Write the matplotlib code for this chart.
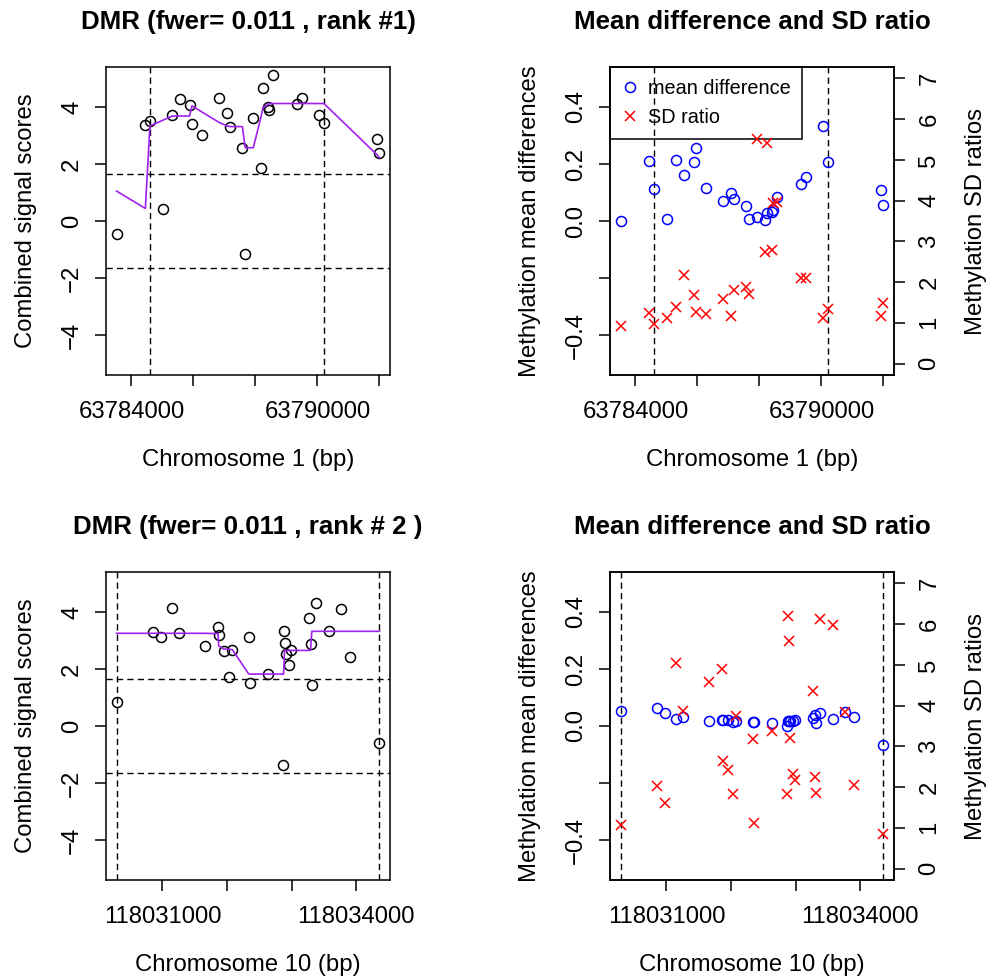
import matplotlib
matplotlib.use("Agg")
import matplotlib.pyplot as plt
from matplotlib.lines import Line2D

plt.rcParams['font.family'] = ['Liberation Sans', 'DejaVu Sans']

# ---------------- data: region 1 (chromosome 1) ----------------
pos1 = [63783520, 63784451, 63784596, 63785004, 63785321, 63785552, 63785874,
        63785954, 63786277, 63786840, 63787093, 63787179, 63787581, 63787668,
        63787931, 63788184, 63788243, 63788414, 63788441, 63788559, 63789333,
        63789505, 63790047, 63790208, 63791915, 63792001]
score1 = [-0.44, 3.36, 3.52, 0.42, 3.70, 4.27, 4.07, 3.40, 3.01, 4.32, 3.78,
          3.31, 2.57, -1.17, 3.60, 1.87, 4.65, 4.00, 3.89, 5.11, 4.12, 4.30,
          3.70, 3.42, 2.88, 2.37]
smooth1 = [1.05, 0.44, 3.33, 3.53, 3.68, 3.68, 3.68, 4.04, 3.82, 3.45, 3.33,
           3.31, 3.31, 2.57, 2.57, 3.67, 3.98, 4.09, 4.12, 4.12, 4.12, 4.12,
           4.12, 4.12, 2.33, 2.22]
meandiff1 = [0.000, 0.210, 0.113, 0.006, 0.214, 0.163, 0.208, 0.255, 0.117,
             0.069, 0.099, 0.076, 0.053, 0.006, 0.015, 0.005, 0.027, 0.033,
             0.039, 0.084, 0.130, 0.156, 0.333, 0.207, 0.109, 0.057]
sdratio1 = [0.92, 1.23, 0.98, 1.11, 1.39, 2.17, 1.68, 1.27, 1.21, 1.59, 1.17,
            1.80, 1.88, 1.70, 5.51, 2.74, 5.41, 2.78, 3.95, 3.97, 2.09, 2.09,
            1.13, 1.33, 1.17, 1.49]
dmr1 = [63784590, 63790210]
xticks1 = [63784000, 63786000, 63788000, 63790000, 63792000]
xticklabels1 = ['63784000', '', '', '63790000', '']

# ---------------- data: region 2 (chromosome 10) ----------------
pos2 = [118030289, 118030850, 118030974, 118031155, 118031258, 118031655,
        118031861, 118031871, 118031949, 118032036, 118032083, 118032335,
        118032356, 118032629, 118032871, 118032876, 118032892, 118032913,
        118032954, 118032990, 118033273, 118033294, 118033314, 118033376,
        118033583, 118033768, 118033907, 118034362]
score2 = [0.83, 3.30, 3.12, 4.14, 3.25, 2.81, 3.46, 3.19, 2.62, 1.71, 2.68,
          3.11, 1.51, 1.82, -1.38, 3.32, 2.91, 2.53, 2.15, 2.67, 3.80, 2.88,
          1.44, 4.33, 3.32, 4.12, 2.41, -0.60]
smooth2 = [3.25, 3.25, 3.25, 3.25, 3.25, 3.25, 3.24, 2.81, 2.70, 2.69, 2.68,
           1.83, 1.82, 1.82, 1.82, 1.82, 2.65, 2.65, 2.65, 2.65, 2.65, 2.66,
           3.32, 3.32, 3.32, 3.32, 3.32, 3.32]
meandiff2 = [0.053, 0.062, 0.044, 0.026, 0.030, 0.018, 0.021, 0.022, 0.020,
             0.013, 0.019, 0.015, 0.013, 0.012, 0.000, 0.016, 0.019, 0.016,
             0.018, 0.020, 0.027, 0.040, 0.012, 0.046, 0.025, 0.050, 0.033,
             -0.067]
sdratio2 = [1.06, 2.02, 1.61, 5.05, 3.87, 4.57, 4.89, 2.65, 2.43, 1.84, 3.74,
            3.18, 1.12, 3.38, 1.82, 6.21, 5.59, 3.20, 2.33, 2.18, 4.35, 2.25,
            1.86, 6.12, 5.97, 3.85, 2.04, 0.85]
dmr2 = [118030289, 118034362]
xticks2 = [118031000, 118032000, 118033000, 118034000]
xticklabels2 = ['118031000', '', '', '118034000']

cutoff = 1.645
score_ticks = [-4, -2, 0, 2, 4]
score_ticklabels = ['\u22124', '\u22122', '0', '2', '4']
md_ticks = [-0.4, -0.2, 0.0, 0.2, 0.4]
md_ticklabels = ['\u22120.4', '', '0.0', '0.2', '0.4']
sd_ticks = [0, 1, 2, 3, 4, 5, 6, 7]

titles = ['DMR (fwer= 0.011 , rank #1)', 'DMR (fwer= 0.011 , rank # 2 )']
xlabels = ['Chromosome 1 (bp)', 'Chromosome 10 (bp)']
right_title = 'Mean difference and SD ratio'

# ---------------- layout ----------------
W, H = 990, 980
fig = plt.figure(figsize=(W / 100, H / 100), dpi=100)
FS, TFS, LFS = 17.2, 18.6, 14.3
PURPLE = '#A020F0'
DASH = (0, (4.5, 3))
MS_O, MS_X, MEW = 7.2, 7.4, 1.1


def rect(l, t, r, b):
    return [l / W, 1 - b / H, (r - l) / W, (b - t) / H]


def padded(v, frac=0.04):
    lo, hi = min(v), max(v)
    r = hi - lo
    return lo - frac * r, hi + frac * r


def style(ax):
    for s in ax.spines.values():
        s.set_linewidth(1.1)
    ax.tick_params(length=7.9, width=1.1, labelsize=FS)
    ax.tick_params(axis='x', pad=11.0)
    ax.tick_params(axis='y', pad=8.6)


def rot_yticklabels(ax):
    plt.setp(ax.get_yticklabels(), rotation=90, va='center')


def ftext(px, py, s, **kw):
    fig.text(px / W, 1 - py / H, s, **kw)


rows = [
    dict(top=67, bot=375, pos=pos1, score=score1, smooth=smooth1, md=meandiff1,
         sd=sdratio1, dmr=dmr1, xt=xticks1, xtl=xticklabels1, title=titles[0],
         xlabel=xlabels[0], legend=True),
    dict(top=572, bot=880, pos=pos2, score=score2, smooth=smooth2, md=meandiff2,
         sd=sdratio2, dmr=dmr2, xt=xticks2, xtl=xticklabels2, title=titles[1],
         xlabel=xlabels[1], legend=False),
]

L1, R1, L2, R2 = 106, 390, 610, 894

for row in rows:
    top, bot = row['top'], row['bot']
    ymid = (top + bot) / 2
    xlim = padded(row['pos'])

    # ---- left panel: combined signal scores ----
    ax = fig.add_axes(rect(L1, top, R1, bot))
    ax.plot(row['pos'], row['score'], linestyle='none', marker='o', mfc='none',
            mec='black', ms=MS_O, mew=MEW, zorder=3)
    ax.plot(row['pos'], row['smooth'], color=PURPLE, lw=1.2, zorder=3)
    for b in row['dmr']:
        ax.axvline(b, color='black', lw=1.0, linestyle=DASH, zorder=2)
    for c in (cutoff, -cutoff):
        ax.axhline(c, color='black', lw=1.0, linestyle=DASH, zorder=2)
    ax.set_xlim(*xlim)
    ax.set_ylim(-5.4, 5.4)
    ax.set_xticks(row['xt'])
    ax.set_xticklabels(row['xtl'])
    ax.set_yticks(score_ticks)
    ax.set_yticklabels(score_ticklabels)
    style(ax)
    rot_yticklabels(ax)
    ftext((L1 + R1) / 2, top - 38, row['title'], ha='center', va='baseline',
          fontsize=TFS, fontweight='bold')
    ftext((L1 + R1) / 2, bot + 91, row['xlabel'], ha='center', va='baseline',
          fontsize=FS)
    ftext(L1 - 74, ymid, 'Combined signal scores', rotation=90,
          rotation_mode='anchor', ha='center', va='baseline', fontsize=FS)

    # ---- right panel: mean difference and SD ratio ----
    axm = fig.add_axes(rect(L2, top, R2, bot))
    axm.plot(row['pos'], row['md'], linestyle='none', marker='o', mfc='none',
             mec='blue', ms=MS_O, mew=MEW, zorder=3)
    for b in row['dmr']:
        axm.axvline(b, color='black', lw=1.0, linestyle=DASH, zorder=2)
    axm.set_xlim(*xlim)
    axm.set_ylim(-0.54, 0.54)
    axm.set_xticks(row['xt'])
    axm.set_xticklabels(row['xtl'])
    axm.set_yticks(md_ticks)
    axm.set_yticklabels(md_ticklabels)
    style(axm)
    rot_yticklabels(axm)

    axs = axm.twinx()
    axs.plot(row['pos'], row['sd'], linestyle='none', marker='x', color='red',
             ms=MS_X, mew=MEW, zorder=3)
    axs.set_ylim(-0.28, 7.28)
    axs.set_yticks(sd_ticks)
    axs.set_yticklabels([str(t) for t in sd_ticks])
    style(axs)
    axs.tick_params(axis='y', pad=9.7)
    rot_yticklabels(axs)

    if row['legend']:
        handles = [
            Line2D([], [], linestyle='none', marker='o', mfc='none', mec='blue',
                   ms=MS_O, mew=MEW),
            Line2D([], [], linestyle='none', marker='x', color='red', ms=MS_X,
                   mew=MEW),
        ]
        leg = axm.legend(handles, ['mean difference', 'SD ratio'],
                         loc='upper left', bbox_to_anchor=(0, 1),
                         borderaxespad=0, fontsize=LFS, fancybox=False,
                         edgecolor='black', framealpha=1, borderpad=0.6,
                         handlelength=0.8, handletextpad=0.5, labelspacing=0.5)
        leg.get_frame().set_linewidth(1.1)
        leg.set_zorder(1)

    ftext((L2 + R2) / 2, top - 38, right_title, ha='center', va='baseline',
          fontsize=TFS, fontweight='bold')
    ftext((L2 + R2) / 2, bot + 91, row['xlabel'], ha='center', va='baseline',
          fontsize=FS)
    ftext(L2 - 74, ymid, 'Methylation mean differences', rotation=90,
          rotation_mode='anchor', ha='center', va='baseline', fontsize=FS)
    ftext(R2 + 88, ymid, 'Methylation SD ratios', rotation=90,
          rotation_mode='anchor', ha='center', va='baseline', fontsize=FS)

fig.savefig('out.png', dpi=100)
